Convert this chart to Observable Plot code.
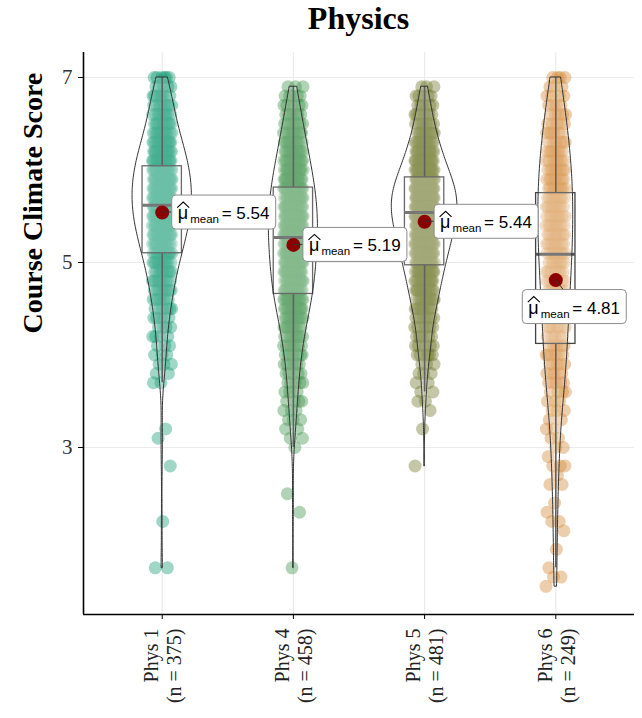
<!DOCTYPE html>
<html>
<head>
<meta charset="utf-8">
<script src="https://cdn.jsdelivr.net/npm/d3@7"></script>
<script src="https://cdn.jsdelivr.net/npm/@observablehq/plot@0.6"></script>
<style>
  html, body { margin: 0; padding: 0; background: #fff; overflow: hidden; }
  #title { height: 44px; line-height: 40px; padding: 0 8px 0 83px; text-align: center;
           font: bold 32px "Liberation Serif", "Times New Roman", serif; color: #000; }
  #chart svg { display: block; }
</style>
</head>
<body>
<div id="title"></div>
<div id="chart"></div>
<script>
// ---------- chart values ----------
const chartTitle = "Physics";
const yLabel = "Course Climate Score";
const groups = ["Phys 1", "Phys 4", "Phys 5", "Phys 6"];
const groupN = [375, 458, 481, 249];
const groupColors = ["#1b9e77", "#43934f", "#6f7a2e", "#d48b3a"];
const meanValues = [5.54, 5.19, 5.44, 4.81];
const boxQ1 = [5.10, 4.66, 4.97, 4.12];
const boxMedian = [5.62, 5.27, 5.54, 5.09];
const boxQ3 = [6.04, 5.81, 5.92, 5.75];
const whiskerLow = [3.7, 3.0, 3.6, 1.7];
const whiskerHigh = [7.0, 6.9, 6.9, 7.0];
const yTicks = [3, 5, 7];

// individual scores: score levels and how many students sit at each level
const phys1Scores = [7.0,6.9,6.8,6.7,6.6,6.5,6.4,6.3,6.2,6.1,6.0,5.9,5.8,5.7,5.6,5.5,5.4,5.3,5.2,5.1,5.0,4.9,4.8,4.7,4.6,4.5,4.4,4.3,4.2,4.1,4.0,3.9,3.8,3.7,3.2,3.1,2.8,2.2,1.7];
const phys1Counts = [6,5,7,8,9,10,12,14,16,18,19,20,21,21,20,20,19,17,15,14,12,10,9,8,7,6,5,4,4,3,3,3,2,2,1,1,1,1,2];
const phys4Scores = [6.9,6.8,6.7,6.6,6.5,6.4,6.3,6.2,6.1,6.0,5.9,5.8,5.7,5.6,5.5,5.4,5.3,5.2,5.1,5.0,4.9,4.8,4.7,4.6,4.5,4.4,4.3,4.2,4.1,4.0,3.9,3.8,3.7,3.6,3.5,3.4,3.3,3.2,3.1,3.0,2.5,2.3,1.7];
const phys4Counts = [3,5,6,7,8,10,11,13,14,16,17,19,19,20,21,21,21,20,19,19,19,18,17,16,14,13,10,9,8,7,6,5,5,4,4,3,3,2,2,1,1,1,1];
const phys5Scores = [6.9,6.8,6.7,6.6,6.5,6.4,6.3,6.2,6.1,6.0,5.9,5.8,5.7,5.6,5.5,5.4,5.3,5.2,5.1,5.0,4.9,4.8,4.7,4.6,4.5,4.4,4.3,4.2,4.1,4.0,3.9,3.8,3.7,3.6,3.5,3.4,3.2,2.8];
const phys5Counts = [3,5,6,7,8,11,13,15,18,21,25,28,30,30,29,27,25,23,21,19,17,15,14,12,11,8,7,6,6,6,3,3,2,2,2,1,1,1];
const phys6Scores = [7.0,6.9,6.8,6.7,6.6,6.5,6.4,6.3,6.2,6.1,6.0,5.9,5.8,5.7,5.6,5.5,5.4,5.3,5.2,5.1,5.0,4.9,4.8,4.7,4.6,4.5,4.4,4.3,4.2,4.1,4.0,3.9,3.8,3.7,3.6,3.5,3.4,3.3,3.2,3.1,3.0,2.9,2.8,2.7,2.6,2.4,2.3,2.2,2.1,1.9,1.7,1.6,1.5];
const phys6Counts = [4,3,4,4,5,5,6,6,7,7,8,8,8,8,8,8,8,8,8,8,7,7,7,7,6,6,6,6,5,5,6,5,5,5,4,3,3,2,2,2,2,1,3,1,2,1,1,2,1,1,1,2,1];

// ---------- build tables for the library ----------
const scoreLevels = [phys1Scores, phys4Scores, phys5Scores, phys6Scores];
const scoreCounts = [phys1Counts, phys4Counts, phys5Counts, phys6Counts];

const points = [];
const jitterHalf = 0.075;
scoreLevels.forEach((levels, g) => {
  let k = 0;
  levels.forEach((v, j) => {
    for (let c = 0; c < scoreCounts[g][j]; c++, k++) {
      const u = ((k + 1) * 0.6180339887 + g * 0.37) % 1; // deterministic jitter
      points.push({g, group: groups[g], v, x: g + (u - 0.5) * 2 * jitterHalf});
    }
  });
});

// violin: gaussian KDE (bw.nrd0), trimmed to data range, scaled by area
function bwNrd0(vals) {
  const sd = d3.deviation(vals);
  const iqr = d3.quantile(vals, 0.75) - d3.quantile(vals, 0.25);
  return 0.9 * Math.min(sd, iqr / 1.34) * Math.pow(vals.length, -0.2);
}
const violinRaw = groups.map((name, g) => {
  const vals = points.filter(p => p.g === g).map(p => p.v);
  const bw = bwNrd0(vals);
  const [lo, hi] = d3.extent(vals);
  const steps = 200;
  const rows = [];
  for (let s = 0; s <= steps; s++) {
    const y = lo + (hi - lo) * s / steps;
    let d = 0;
    for (const v of vals) { const z = (y - v) / bw; d += Math.exp(-0.5 * z * z); }
    d /= vals.length * bw * Math.sqrt(2 * Math.PI);
    rows.push({g, y, d});
  }
  return rows;
});
const maxDens = d3.max(violinRaw.flat(), r => r.d);
const violinWidth = 0.5;
const violinRows = violinRaw.flat().map(r => ({
  g: r.g, y: r.y,
  x1: r.g - (violinWidth / 2) * r.d / maxDens,
  x2: r.g + (violinWidth / 2) * r.d / maxDens
}));

const boxRows = groups.map((name, i) => ({
  i, q1: boxQ1[i], med: boxMedian[i], q3: boxQ3[i], lo: whiskerLow[i], hi: whiskerHigh[i]
}));
const meanRows = meanValues.map((m, i) => ({i, m}));
const boxHalf = 0.15;

// label box placement (pixels, relative to the mean dot)
const labelPlacement = [
  {bx: 10, by: -17}, {bx: 10, by: -17}, {bx: 10, by: -17}, {bx: -33, by: 10}
];
const labelW = 104, labelH = 34;
const sans = "'Liberation Sans', Arial, sans-serif";

function meanLabels(index, scales, values, dimensions, context) {
  const g = d3.create("svg:g").attr("text-anchor", "start");
  meanValues.forEach((m, i) => {
    const cx = scales.x(i), cy = scales.y(m);
    const p = labelPlacement[i];
    const bx = cx + p.bx, by = cy + p.by;
    const ex = p.by < 0 ? bx : cx + 8, ey = p.by < 0 ? cy : by;
    g.append("line").attr("x1", cx).attr("y1", cy).attr("x2", ex).attr("y2", ey)
      .attr("stroke", "#333").attr("stroke-width", 1);
    g.append("rect").attr("x", bx).attr("y", by).attr("width", labelW).attr("height", labelH)
      .attr("rx", 4).attr("fill", "white").attr("stroke", "#8c8c8c").attr("stroke-width", 1);
    const txt = (x, y, size, s) => g.append("text").attr("x", x).attr("y", y)
      .attr("text-anchor", "start").attr("font-family", sans).attr("font-size", size)
      .attr("fill", "#000").text(s);
    txt(bx + 6, by + 24, 18, "\u03bc");
    // wide estimator hat above mu
    g.append("path")
      .attr("d", `M${bx + 5.5},${by + 12.5}L${bx + 11.5},${by + 7}L${bx + 17.5},${by + 12.5}`)
      .attr("fill", "none").attr("stroke", "#000").attr("stroke-width", 1.1);
    txt(bx + 18.5, by + 28, 11.5, "mean");
    txt(bx + 50, by + 24, 17, "= " + m.toFixed(2));
  });
  return g.node();
}

const xDomain = [-0.6, 3.6];
const yDomain = [1.195, 7.27];
const serif = "'Liberation Serif', 'Times New Roman', serif";

document.getElementById("title").textContent = chartTitle;

const chart = Plot.plot({
  width: 642,
  height: 674,
  marginLeft: 83,
  marginRight: 8,
  marginTop: 8,
  marginBottom: 104,
  style: {background: "white", fontFamily: serif, overflow: "visible"},
  x: {type: "linear", domain: xDomain},
  y: {domain: yDomain},
  color: {type: "ordinal", domain: groups, range: groupColors},
  marks: [
    Plot.gridY(yTicks, {stroke: "#ebebeb", strokeOpacity: 1, strokeWidth: 1.2}),
    Plot.gridX(d3.range(groups.length), {stroke: "#ebebeb", strokeOpacity: 1, strokeWidth: 1.2}),
    Plot.dot(points, {x: "x", y: "v", r: 6.5, fill: "group", fillOpacity: 0.42, stroke: null}),
    Plot.ruleX(boxRows, {x: "i", y1: "q3", y2: "hi", stroke: "#3a3a3a", strokeWidth: 1.6}),
    Plot.ruleX(boxRows, {x: "i", y1: "lo", y2: "q1", stroke: "#3a3a3a", strokeWidth: 1.6}),
    Plot.rect(boxRows, {x1: d => d.i - boxHalf, x2: d => d.i + boxHalf, y1: "q1", y2: "q3",
      fill: "white", fillOpacity: 0.2, stroke: "#444", strokeWidth: 1.3}),
    Plot.ruleY(boxRows, {y: "med", x1: d => d.i - boxHalf, x2: d => d.i + boxHalf, stroke: "#555", strokeWidth: 3}),
    Plot.areaX(violinRows, {y: "y", x1: "x1", x2: "x2", z: "g", fill: "white", fillOpacity: 0.2,
      stroke: "#333", strokeWidth: 1}),
    Plot.ruleX([xDomain[0]], {stroke: "#000", strokeWidth: 1.6}),
    Plot.ruleY([yDomain[0]], {stroke: "#000", strokeWidth: 1.6}),
    Plot.axisY(yTicks, {tickFormat: d => String(d), tickSize: 5, tickPadding: 6, fontSize: 21,
      fill: "#333", stroke: "#000", label: null}),
    Plot.axisX(d3.range(groups.length), {
      tickFormat: i => `${groups[i]}\n(n = ${groupN[i]})`,
      tickRotate: -90, tickSize: 5, tickPadding: 9, fontSize: 20, lineHeight: 1.15,
      fill: "#222", stroke: "#000", label: null
    }),
    Plot.text([yLabel], {frameAnchor: "left", dx: -50, rotate: -90, fontSize: 28, fontWeight: "bold",
      fill: "#000", fontFamily: serif}),
    Plot.dot(meanRows, {x: "i", y: "m", r: 7, fill: "#8b0000"}),
    meanLabels
  ]
});
document.getElementById("chart").appendChild(chart);
</script>
</body>
</html>
